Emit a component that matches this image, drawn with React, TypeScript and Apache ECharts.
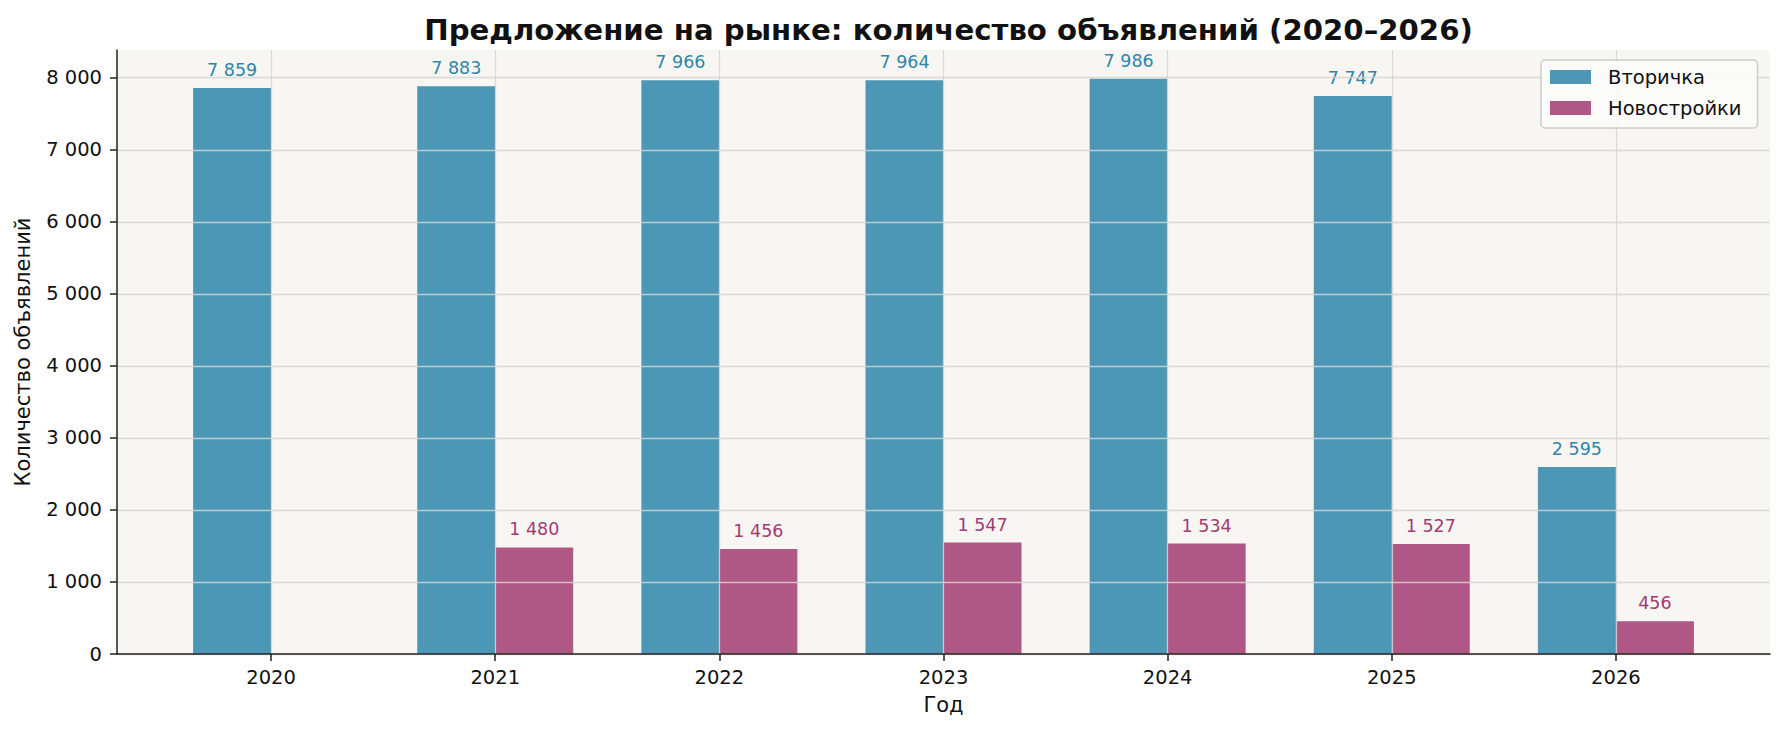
import React, { useEffect, useRef } from "react";
import * as echarts from "echarts";

const years = ["2020", "2021", "2022", "2023", "2024", "2025", "2026"];
const secondary = [7859, 7883, 7966, 7964, 7986, 7747, 2595];
const newBuild: (number | null)[] = [null, 1480, 1456, 1547, 1534, 1527, 456];
const yTicks = [0, 1000, 2000, 3000, 4000, 5000, 6000, 7000, 8000];
const seriesNames = ["Вторичка", "Новостройки"];
const xIdx = years.map((_, i) => i);

const FONT = "DejaVu Sans";
const fmt = (v: number) => String(Math.round(v)).replace(/\B(?=(\d{3})+(?!\d))/g, " ");

export default function App() {
  const ref = useRef<HTMLDivElement>(null);
  useEffect(() => {
    if (!ref.current) return;
    const chart = echarts.init(ref.current, null, { renderer: "svg" });
    const gridLine = { show: true, lineStyle: { color: "rgba(214,212,208,0.85)", width: 1.3 } };
    chart.setOption({
      animation: false,
      backgroundColor: "#ffffff",
      textStyle: { fontFamily: FONT },
      title: {
        text: "Предложение на рынке: количество объявлений (2020–2026)",
        left: 943.5,
        textAlign: "center",
        top: 10,
        textStyle: { fontFamily: FONT, fontSize: 29.2, fontWeight: "bold", color: "#111" },
      },
      legend: {
        data: seriesNames,
        orient: "vertical",
        left: 1541,
        top: 60,
        padding: [7, 16, 10, 9],
        itemGap: 11,
        itemWidth: 41,
        itemHeight: 14,
        icon: "rect",
        backgroundColor: "rgba(252,252,251,0.85)",
        borderColor: "#cccccc",
        borderWidth: 1.5,
        borderRadius: 4,
        textStyle: { fontFamily: FONT, fontSize: 19.5, color: "#111", padding: [0, 0, 0, 12], lineHeight: 20 },
      },
      grid: {
        left: 117,
        right: 14,
        top: 50,
        bottom: 78,
        show: true,
        backgroundColor: "#f7f6f2",
        borderWidth: 0,
      },
      xAxis: {
        type: "value",
        min: -0.6875,
        max: 6.6875,
        z: 3,
        name: "Год",
        nameLocation: "middle",
        nameGap: 40,
        nameTextStyle: { fontFamily: FONT, fontSize: 21, color: "#111" },
        axisLine: { show: true, onZero: false, lineStyle: { color: "#222", width: 1.5 } },
        axisTick: { show: true, length: 7, lineStyle: { color: "#222", width: 1.5 }, customValues: xIdx },
        axisLabel: {
          customValues: xIdx,
          margin: 13,
          fontFamily: FONT,
          fontSize: 19.5,
          color: "#111",
          formatter: (v: number) => years[Math.round(v)] ?? "",
        },
        splitLine: gridLine,
      },
      yAxis: {
        type: "value",
        min: 0,
        max: 8385,
        z: 3,
        name: "Количество объявлений",
        nameLocation: "middle",
        nameGap: 84,
        nameTextStyle: { fontFamily: FONT, fontSize: 21, color: "#111" },
        axisLine: { show: true, onZero: false, lineStyle: { color: "#222", width: 1.5 } },
        axisTick: { show: true, length: 7, lineStyle: { color: "#222", width: 1.5 }, customValues: yTicks },
        axisLabel: {
          customValues: yTicks,
          margin: 15,
          fontFamily: FONT,
          fontSize: 19.5,
          color: "#111",
          formatter: (v: number) => fmt(v),
        },
        splitLine: gridLine,
      },
      series: [
        {
          name: seriesNames[0],
          type: "bar",
          barWidth: 78,
          barGap: "0%",
          itemStyle: { color: "#4c97b5" },
          label: {
            show: true,
            position: "top",
            distance: 9,
            fontFamily: FONT,
            fontSize: 17.5,
            color: "#2E86AB",
            formatter: (p: any) => fmt(p.value[1]),
          },
          data: secondary.map((v, i) => [i, v]),
        },
        {
          name: seriesNames[1],
          type: "bar",
          barWidth: 78,
          barGap: "0%",
          itemStyle: { color: "#af5785" },
          label: {
            show: true,
            position: "top",
            distance: 9,
            fontFamily: FONT,
            fontSize: 17.5,
            color: "#A23B72",
            formatter: (p: any) => fmt(p.value[1]),
          },
          data: newBuild.map((v, i) => (v == null ? null : [i, v])).filter((d) => d != null),
        },
      ],
    });
    return () => chart.dispose();
  }, []);
  return <div ref={ref} style={{ position: "fixed", left: 0, top: 0, width: 1784, height: 732 }} />;
}
